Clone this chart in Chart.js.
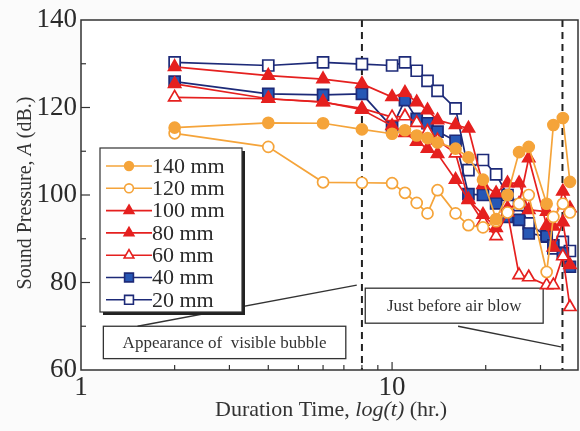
<!DOCTYPE html>
<html>
<head>
<meta charset="utf-8">
<script src="https://cdn.jsdelivr.net/npm/chart.js@4.4.0/dist/chart.umd.min.js"></script>
<style>
  html, body { margin: 0; padding: 0; background: #fbfbfb; }
  #wrap { width: 580px; height: 431px; }
</style>
</head>
<body>
<div id="wrap"><canvas id="myCanvas" width="580" height="431"></canvas></div>
<script>
// values (duration in hr, sound pressure in dB)
let times = [2, 4, 6, 8, 10, 11, 12, 13, 14, 16, 17.6, 19.6, 21.6, 23.5, 25.6, 27.5, 31.4, 33, 35.4, 37.3];

let p140 = [115.4, 116.5, 116.4, 115.0, 114.0, 114.8, 113.6, 113.0, 112.0, 110.6, 108.6, 103.5, 94.5, 100.0, 109.8, 111.0, 98.0, 116.0, 117.6, 103.0];
let p120 = [114.1, 111.0, 102.9, 102.8, 102.7, 100.5, 98.2, 95.8, 101.1, 95.8, 93.1, 92.6, 94.0, 96.0, 98.0, 100.0, 82.4, 95.0, 98.0, 96.0];
let p100 = [129.3, 127.3, 126.5, 125.4, 122.4, 123.4, 121.2, 119.4, 117.1, 116.0, 115.2, 102.3, 100.4, 102.7, 102.7, 96.6, 96.2, 92.8, 100.8, 97.0];
let p80  = [125.4, 122.0, 121.3, 119.5, 115.8, 114.2, 112.2, 110.6, 109.4, 103.5, 98.9, 95.5, 92.5, 97.0, 98.0, 108.4, 93.0, 88.0, 93.8, 84.0];
let p60  = [122.3, 122.0, 121.2, 119.8, 117.8, 118.0, 116.5, 114.5, 112.5, 109.5, 99.0, 93.9, 90.6, 96.0, 81.7, 81.2, 79.4, 79.4, 86.0, 74.4];
let p40  = [125.9, 123.1, 122.9, 123.1, 115.5, 121.7, 117.4, 116.4, 114.5, 112.4, 100.2, 100.0, 98.1, 95.0, 94.3, 91.2, 90.6, 88.5, 86.7, 83.6];
let p20  = [130.3, 129.6, 130.3, 129.9, 129.6, 130.3, 128.4, 126.1, 123.8, 119.8, 105.7, 108.0, 104.7, 100.0, 97.7, 93.5, 90.5, 87.8, 89.3, 87.2];

let seriesNames = ['140 mm', '120 mm', '100 mm', '80 mm', '60 mm', '40 mm', '20 mm'];
let xTickLabels = [1, 10];
let yTickLabels = [60, 80, 100, 120, 140];
let eventTimes = [8, 35.3];   // dashed lines

let orange = '#f5a43a';
let red = '#e5201f';
let navy = '#1d2a78';
let blue = '#2757b5';
let serif = '"Liberation Serif", "Times New Roman", serif';

function pts(vals) {
    return times.map(function(t, i) { return { x: t, y: vals[i] }; });
}

function mkSet(label, vals, color, style, fill, border, r) {
    return {
        label: label,
        data: pts(vals),
        borderColor: color,
        borderWidth: 1.7,
        pointStyle: style,
        pointRadius: r,
        pointBackgroundColor: fill,
        pointBorderColor: border,
        pointBorderWidth: 1.7,
        spanGaps: true,
        tension: 0
    };
}

let datasets = [
    mkSet(seriesNames[0], p140, orange, 'circle', orange, orange, 5.5),
    mkSet(seriesNames[1], p120, orange, 'circle', '#ffffff', orange, 5.5),
    mkSet(seriesNames[2], p100, red, 'triangle', red, red, 7),
    mkSet(seriesNames[3], p80, red, 'triangle', red, red, 7),
    mkSet(seriesNames[4], p60, red, 'triangle', '#ffffff', red, 7),
    mkSet(seriesNames[5], p40, navy, 'rect', blue, navy, 7.8),
    mkSet(seriesNames[6], p20, navy, 'rect', '#ffffff', navy, 7.8)
];

// inward ticks, frame, dashed lines, notes, legend and axis titles
let decorPlugin = {
    id: 'decor',
    beforeDatasetsDraw: function(chart) {
        let ctx = chart.ctx, a = chart.chartArea;
        let xs = chart.scales.x, ys = chart.scales.y;
        ctx.save();
        ctx.fillStyle = '#ffffff';
        ctx.fillRect(a.left, a.top, a.right - a.left, a.bottom - a.top);
        // dashed event lines
        ctx.strokeStyle = '#222';
        ctx.lineWidth = 2;
        ctx.setLineDash([7, 5]);
        eventTimes.forEach(function(t) {
            let px = xs.getPixelForValue(t);
            ctx.beginPath();
            ctx.moveTo(px, a.top);
            ctx.lineTo(px, a.bottom);
            ctx.stroke();
        });
        ctx.setLineDash([]);
        // note boxes + leaders (in data coords)
        ctx.strokeStyle = '#333';
        ctx.lineWidth = 1.3;
        let notes = [
            { x0: 1.18, x1: 7.1, y0: 70.0, y1: 62.6, text: 'Appearance of  visible bubble', lx0: 1.52, ly0: 70.0, lx1: 7.7, ly1: 79.4 },
            { x0: 8.2, x1: 30.6, y0: 78.7, y1: 70.7, text: 'Just before air blow', lx0: 16.3, ly0: 70.0, lx1: 34.9, ly1: 65.3 }
        ];
        ctx.font = '17px ' + serif;
        ctx.textAlign = 'center';
        ctx.textBaseline = 'middle';
        notes.forEach(function(n) {
            let l = xs.getPixelForValue(n.x0), r = xs.getPixelForValue(n.x1);
            let t = ys.getPixelForValue(n.y0), b = ys.getPixelForValue(n.y1);
            ctx.fillStyle = '#ffffff';
            ctx.fillRect(l, t, r - l, b - t);
            ctx.strokeRect(l, t, r - l, b - t);
            ctx.fillStyle = '#333';
            ctx.fillText(n.text, (l + r) / 2, (t + b) / 2 + 1);
            ctx.beginPath();
            ctx.moveTo(xs.getPixelForValue(n.lx0), ys.getPixelForValue(n.ly0));
            ctx.lineTo(xs.getPixelForValue(n.lx1), ys.getPixelForValue(n.ly1));
            ctx.stroke();
        });
        ctx.restore();
    },
    afterDatasetsDraw: function(chart) {
        let ctx = chart.ctx, a = chart.chartArea;
        let xs = chart.scales.x, ys = chart.scales.y;
        ctx.save();
        ctx.strokeStyle = '#333';
        ctx.lineWidth = 1.5;
        ctx.strokeRect(a.left, a.top, a.right - a.left, a.bottom - a.top);
        // inward tick marks
        ctx.lineWidth = 1.2;
        [2, 3, 4, 5, 6, 7, 8, 9, 10, 20, 30].forEach(function(t) {
            let px = xs.getPixelForValue(t);
            let len = (t === 10) ? 8 : 5;
            ctx.beginPath();
            ctx.moveTo(px, a.bottom);
            ctx.lineTo(px, a.bottom - len);
            ctx.stroke();
        });
        for (let v = 70; v <= 130; v += 10) {
            let py = ys.getPixelForValue(v);
            let len = (v % 20 === 0) ? 9 : 5;
            ctx.beginPath();
            ctx.moveTo(a.left, py);
            ctx.lineTo(a.left + len, py);
            ctx.stroke();
        }
        // legend box
        let bx = a.left + 19, by = a.top + 128, bw = 142, bh = 164;
        ctx.fillStyle = '#222';
        ctx.fillRect(bx + 3, by + 3, bw, bh);
        ctx.fillStyle = '#ffffff';
        ctx.fillRect(bx, by, bw, bh);
        ctx.strokeStyle = '#333';
        ctx.lineWidth = 1.2;
        ctx.strokeRect(bx, by, bw, bh);
        ctx.font = '22px ' + serif;
        ctx.textAlign = 'left';
        ctx.textBaseline = 'middle';
        chart.data.datasets.forEach(function(ds, i) {
            let yy = by + 18 + i * 22.3;
            ctx.strokeStyle = ds.borderColor;
            ctx.lineWidth = 1.6;
            ctx.beginPath();
            ctx.moveTo(bx + 6, yy);
            ctx.lineTo(bx + 52, yy);
            ctx.stroke();
            ctx.fillStyle = ds.pointBackgroundColor;
            ctx.strokeStyle = ds.pointBorderColor;
            Chart.helpers.drawPoint(ctx, { pointStyle: ds.pointStyle, radius: ds.pointRadius * 0.8, borderWidth: 1.6, rotation: 0 }, bx + 29, yy);
            ctx.fillStyle = '#2a2a2a';
            ctx.fillText(ds.label, bx + 52, yy + 1);
        });
        // axis titles with italic parts
        function mixed(parts, x, y) {
            let total = 0;
            parts.forEach(function(p) { ctx.font = p[1] + ' ' + serif; total += ctx.measureText(p[0]).width; });
            let cx = x - total / 2;
            parts.forEach(function(p) {
                ctx.font = p[1] + ' ' + serif;
                ctx.fillText(p[0], cx, y);
                cx += ctx.measureText(p[0]).width;
            });
        }
        ctx.fillStyle = '#333';
        ctx.textBaseline = 'middle';
        ctx.textAlign = 'left';
        mixed([['Duration Time, ', '22px'], ['log(t)', 'italic 22px'], [' (hr.)', '22px']], 331, 410);
        ctx.save();
        ctx.translate(26, 193);
        ctx.rotate(-Math.PI / 2);
        mixed([['Sound Pressure, ', '20px'], ['A', 'italic 20px'], [' (dB.)', '20px']], 0, 0);
        ctx.restore();
        ctx.restore();
    }
};

let chrt = document.getElementById('myCanvas');
let myChart = new Chart(chrt, {
    type: 'line',
    data: { datasets: datasets },
    options: {
        responsive: false,
        animation: false,
        layout: { autoPadding: false, padding: { top: 20, right: 2, left: 0, bottom: 0 } },
        plugins: { legend: { display: false }, tooltip: { enabled: false } },
        scales: {
            x: {
                type: 'logarithmic',
                min: 1,
                max: 39.6,
                grid: { display: false, drawTicks: false },
                border: { display: false },
                afterBuildTicks: function(scale) {
                    scale.ticks = xTickLabels.map(function(v) { return { value: v }; });
                },
                afterFit: function(scale) {
                    scale.height = 61;
                    scale.paddingLeft = 0;
                    scale.paddingRight = 0;
                },
                ticks: {
                    autoSkip: false,
                    maxRotation: 0,
                    padding: 2,
                    color: '#2a2a2a',
                    font: { family: serif, size: 27 },
                    callback: function(v) { return String(v); }
                }
            },
            y: {
                min: 60,
                max: 140,
                grid: { display: false, drawTicks: false },
                border: { display: false },
                afterBuildTicks: function(scale) {
                    scale.ticks = yTickLabels.map(function(v) { return { value: v }; });
                },
                afterFit: function(scale) {
                    scale.width = 81;
                    scale.paddingTop = 0;
                    scale.paddingBottom = 0;
                },
                ticks: {
                    padding: 4,
                    color: '#2a2a2a',
                    font: { family: serif, size: 27 }
                }
            }
        }
    },
    plugins: [decorPlugin]
});
</script>
</body>
</html>
